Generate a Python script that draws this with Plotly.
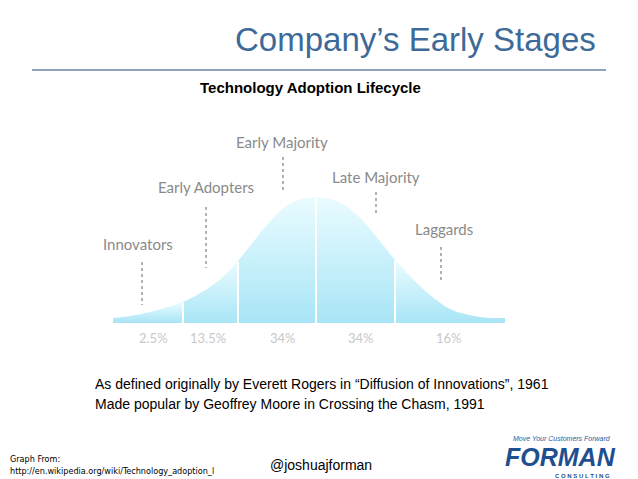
import plotly.graph_objects as go

W, H = 630, 471   # page is 638x479 with the browser's 8px body margin
OFF = 8
BASE = 323  # baseline of the curve in page pixels

# curve: page x and height above baseline (px)
curve_x = [113, 130, 150, 165, 183, 197, 210, 224, 238, 250, 262, 275, 288, 302, 316,
           330, 344, 358, 370, 383, 395, 408, 420, 435, 450, 465, 480, 493, 505]
curve_h = [5, 7, 11, 15, 21, 28, 36, 47, 62, 77, 92, 107, 118, 124, 126,
           124, 118, 107, 94, 78, 63, 49, 37, 24, 14, 9, 6, 5, 5]
bounds = [183, 238, 316, 395]

segments = ["Innovators", "Early Adopters", "Early Majority", "Late Majority", "Laggards"]
seg_label_xy = [(138, 244), (206, 187), (282, 142), (376, 177), (444, 229)]
seg_dots = [(142, 262, 305), (206, 207, 268), (283, 157, 193), (376, 192, 213), (441, 247, 283)]
shares = ["2.5%", "13.5%", "34%", "34%", "16%"]
share_x = [153, 208, 283, 361, 449]


def px(p):
    return p - OFF


def py(p):
    return 1 - (p - OFF) / H


fig = go.Figure()
cuts = [curve_x[0]] + bounds + [curve_x[-1]]
for a, b in zip(cuts[:-1], cuts[1:]):
    idx = [i for i, x in enumerate(curve_x) if a <= x <= b]
    fig.add_trace(go.Scatter(
        x=[px(curve_x[i]) for i in idx], y=[curve_h[i] for i in idx],
        mode="lines", line=dict(width=0, shape="spline"), fill="tozeroy",
        fillgradient=dict(type="vertical", colorscale=[[0, "#a8e5f6"], [1, "#eafcff"]]),
        yaxis="y2", hoverinfo="skip", showlegend=False))
for b in bounds:
    h = curve_h[curve_x.index(b)]
    fig.add_trace(go.Scatter(x=[px(b), px(b)], y=[0, h - 1], mode="lines",
                             line=dict(color="white", width=2), yaxis="y2",
                             hoverinfo="skip", showlegend=False))

ann = []
ann.append(dict(x=415, y=40, text="Company’s Early Stages",
                font=dict(family="Liberation Sans", size=33, color="#3d6a98")))
ann.append(dict(x=310, y=88, text="<b>Technology Adoption Lifecycle</b>",
                font=dict(family="Liberation Sans", size=15, color="black")))
for name, (lx, ly) in zip(segments, seg_label_xy):
    ann.append(dict(x=lx, y=ly, text=name, font=dict(family="Lato", size=15, color="#8a8a8a")))
for s, sx in zip(shares, share_x):
    ann.append(dict(x=sx, y=338, text=s, font=dict(family="Lato", size=13, color="#c8c8c8")))
ann.append(dict(x=93, y=384, xanchor="left",
                text="As defined originally by Everett Rogers in “Diffusion of Innovations”, 1961",
                font=dict(family="Liberation Sans", size=14, color="black")))
ann.append(dict(x=93, y=404, xanchor="left",
                text="Made popular by Geoffrey Moore in Crossing the Chasm, 1991",
                font=dict(family="Liberation Sans", size=14, color="black")))
ann.append(dict(x=8, y=459, xanchor="left", text="Graph From:",
                font=dict(family="DejaVu Sans Condensed", size=9, color="black")))
ann.append(dict(x=8, y=471, xanchor="left", text="http://en.wikipedia.org/wiki/Technology_adoption_l",
                font=dict(family="DejaVu Sans Condensed", size=9, color="black")))
ann.append(dict(x=268, y=465, xanchor="left", text="@joshuajforman",
                font=dict(family="Liberation Sans", size=14, color="black")))
ann.append(dict(x=562, y=438, text="<i>Move Your Customers Forward</i>",
                font=dict(family="Liberation Sans", size=7, color="#2a5a9a")))
ann.append(dict(x=560, y=457, text="<b><i>FORMAN</i></b>",
                font=dict(family="Liberation Sans", size=25, color="#1f4f8f")))
ann.append(dict(x=582, y=476, text="<b>C O N S U L T I N G</b>",
                font=dict(family="Liberation Sans", size=6, color="#1f4f8f")))
for a in ann:
    a.update(x=px(a["x"]), y=py(a["y"]), xref="x", yref="paper", yanchor="middle",
             showarrow=False)
    a.setdefault("xanchor", "center")

shapes = [dict(type="line", xref="x", yref="paper", x0=px(32), x1=px(606), y0=py(70), y1=py(70),
               line=dict(color="#8fa3bd", width=2))]
for dx, y0, y1 in seg_dots:
    shapes.append(dict(type="line", xref="x", yref="paper", x0=px(dx), x1=px(dx), y0=py(y0), y1=py(y1),
                       line=dict(color="#999999", width=1.5, dash="dot")))

fig.update_layout(
    width=W, height=H, margin=dict(l=0, r=0, t=0, b=0, pad=0, autoexpand=False),
    paper_bgcolor="white", plot_bgcolor="white",
    xaxis=dict(range=[0, W], visible=False, fixedrange=True),
    yaxis=dict(range=[0, 1], visible=False),
    yaxis2=dict(domain=[py(BASE), py(BASE - 130)], range=[0, 130], visible=False),
    annotations=ann, shapes=shapes,
)
fig.write_html("out.html")
